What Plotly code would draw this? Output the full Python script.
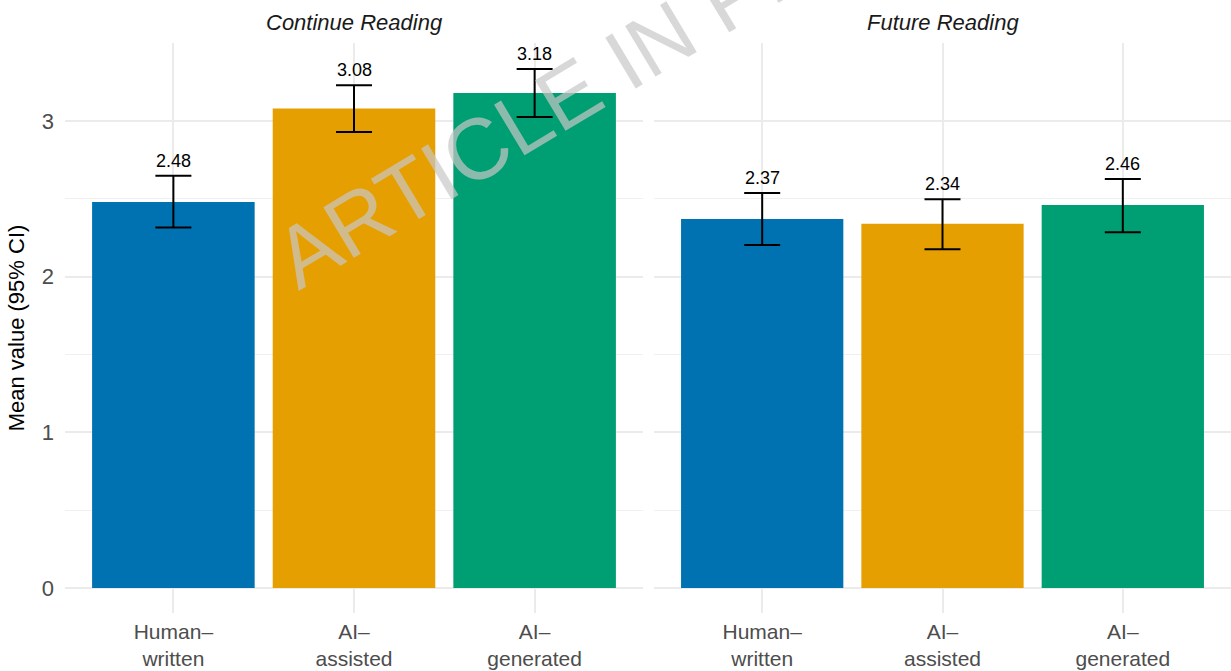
import plotly.graph_objects as go

# ---- data ----
categories = ["Human–<br>written", "AI–<br>assisted", "AI–<br>generated"]
panels = ["Continue Reading", "Future Reading"]
continue_mean = [2.48, 3.08, 3.18]
continue_lower = [2.315, 2.929, 3.026]
continue_upper = [2.649, 3.229, 3.334]
future_mean = [2.37, 2.34, 2.46]
future_lower = [2.203, 2.176, 2.285]
future_upper = [2.537, 2.497, 2.627]
bar_colors = ["#0072B2", "#E69F00", "#009E73"]
y_ticks = [0, 1, 2, 3]

FONT = "Liberation Sans, Arial, Helvetica, sans-serif"
W, H = 1231, 671
ML, MR, MT, MB = 65, 0, 43, 58

fig = go.Figure()

series = [(continue_mean, continue_lower, continue_upper, "x", "y"),
          (future_mean, future_lower, future_upper, "x2", "y2")]

for means, lows, ups, xa, ya in series:
    fig.add_trace(go.Bar(
        x=categories, y=means, width=0.9,
        marker=dict(color=bar_colors, line=dict(width=0)),
        error_y=dict(type="data", symmetric=False,
                     array=[u - m for u, m in zip(ups, means)],
                     arrayminus=[m - l for m, l in zip(means, lows)],
                     color="black", thickness=2, width=18),
        xaxis=xa, yaxis=ya, showlegend=False, hoverinfo="skip"))

# value labels above the upper CI
for means, ups, xa, ya in [(continue_mean, continue_upper, "x", "y"),
                           (future_mean, future_upper, "x2", "y2")]:
    for c, m, u in zip(categories, means, ups):
        fig.add_annotation(
            x=c, y=u, xref=xa, yref=ya, text=f"{m:.2f}", showarrow=False,
            xanchor="center", yanchor="bottom", yshift=3,
            font=dict(family=FONT, size=18, color="black"))

pw = W - ML - MR
ph = H - MT - MB
d1 = (643 - ML) / pw
d2 = (654 - ML) / pw

xcommon = dict(type="category", categoryorder="array", categoryarray=categories,
               range=[-0.6, 2.6], showgrid=True, gridcolor="#EBEBEB", gridwidth=1.5,
               zeroline=False, showline=False, ticks="", ticklabelstandoff=4,
               tickfont=dict(family=FONT, size=21, color="#4D4D4D"))
ycommon = dict(range=[-0.1606, 3.501], tickvals=y_ticks, showgrid=True,
               gridcolor="#EBEBEB", gridwidth=1.5, zeroline=False, showline=False,
               ticks="",
               minor=dict(tick0=0.5, dtick=1, showgrid=True, gridcolor="#F0F0F0", gridwidth=1),
               tickfont=dict(family=FONT, size=22, color="#4D4D4D"))

fig.update_layout(
    width=W, height=H,
    margin=dict(l=ML, r=MR, t=MT, b=MB, autoexpand=False),
    paper_bgcolor="white", plot_bgcolor="white",
    xaxis=dict(domain=[0, d1], **xcommon),
    xaxis2=dict(domain=[d2, 1], anchor="y2", **xcommon),
    yaxis=dict(domain=[0, 1], anchor="x", ticklabelstandoff=10,
               title=dict(text="Mean value (95% CI)", standoff=11,
                          font=dict(family=FONT, size=22, color="black")),
               **ycommon),
    yaxis2=dict(domain=[0, 1], anchor="x2", matches="y", showticklabels=False, **ycommon),
    font=dict(family=FONT),
)

for i, name in enumerate(panels):
    fig.add_annotation(
        text=f"<i>{name}</i>", xref="x domain" if i == 0 else "x2 domain", x=0.5,
        yref="paper", y=(613 - 23) / ph,
        showarrow=False, xanchor="center", yanchor="middle",
        font=dict(family=FONT, size=22, color="#1A1A1A"))

# watermark
fig.add_annotation(
    text="ARTICLE IN PRESS", xref="paper", yref="paper",
    x=(620 - ML) / pw, y=(613 - 63) / ph, showarrow=False,
    xanchor="center", yanchor="middle", textangle=-31,
    font=dict(family=FONT, size=86, color="rgba(200,200,200,0.7)"))

fig.write_html("out.html")
